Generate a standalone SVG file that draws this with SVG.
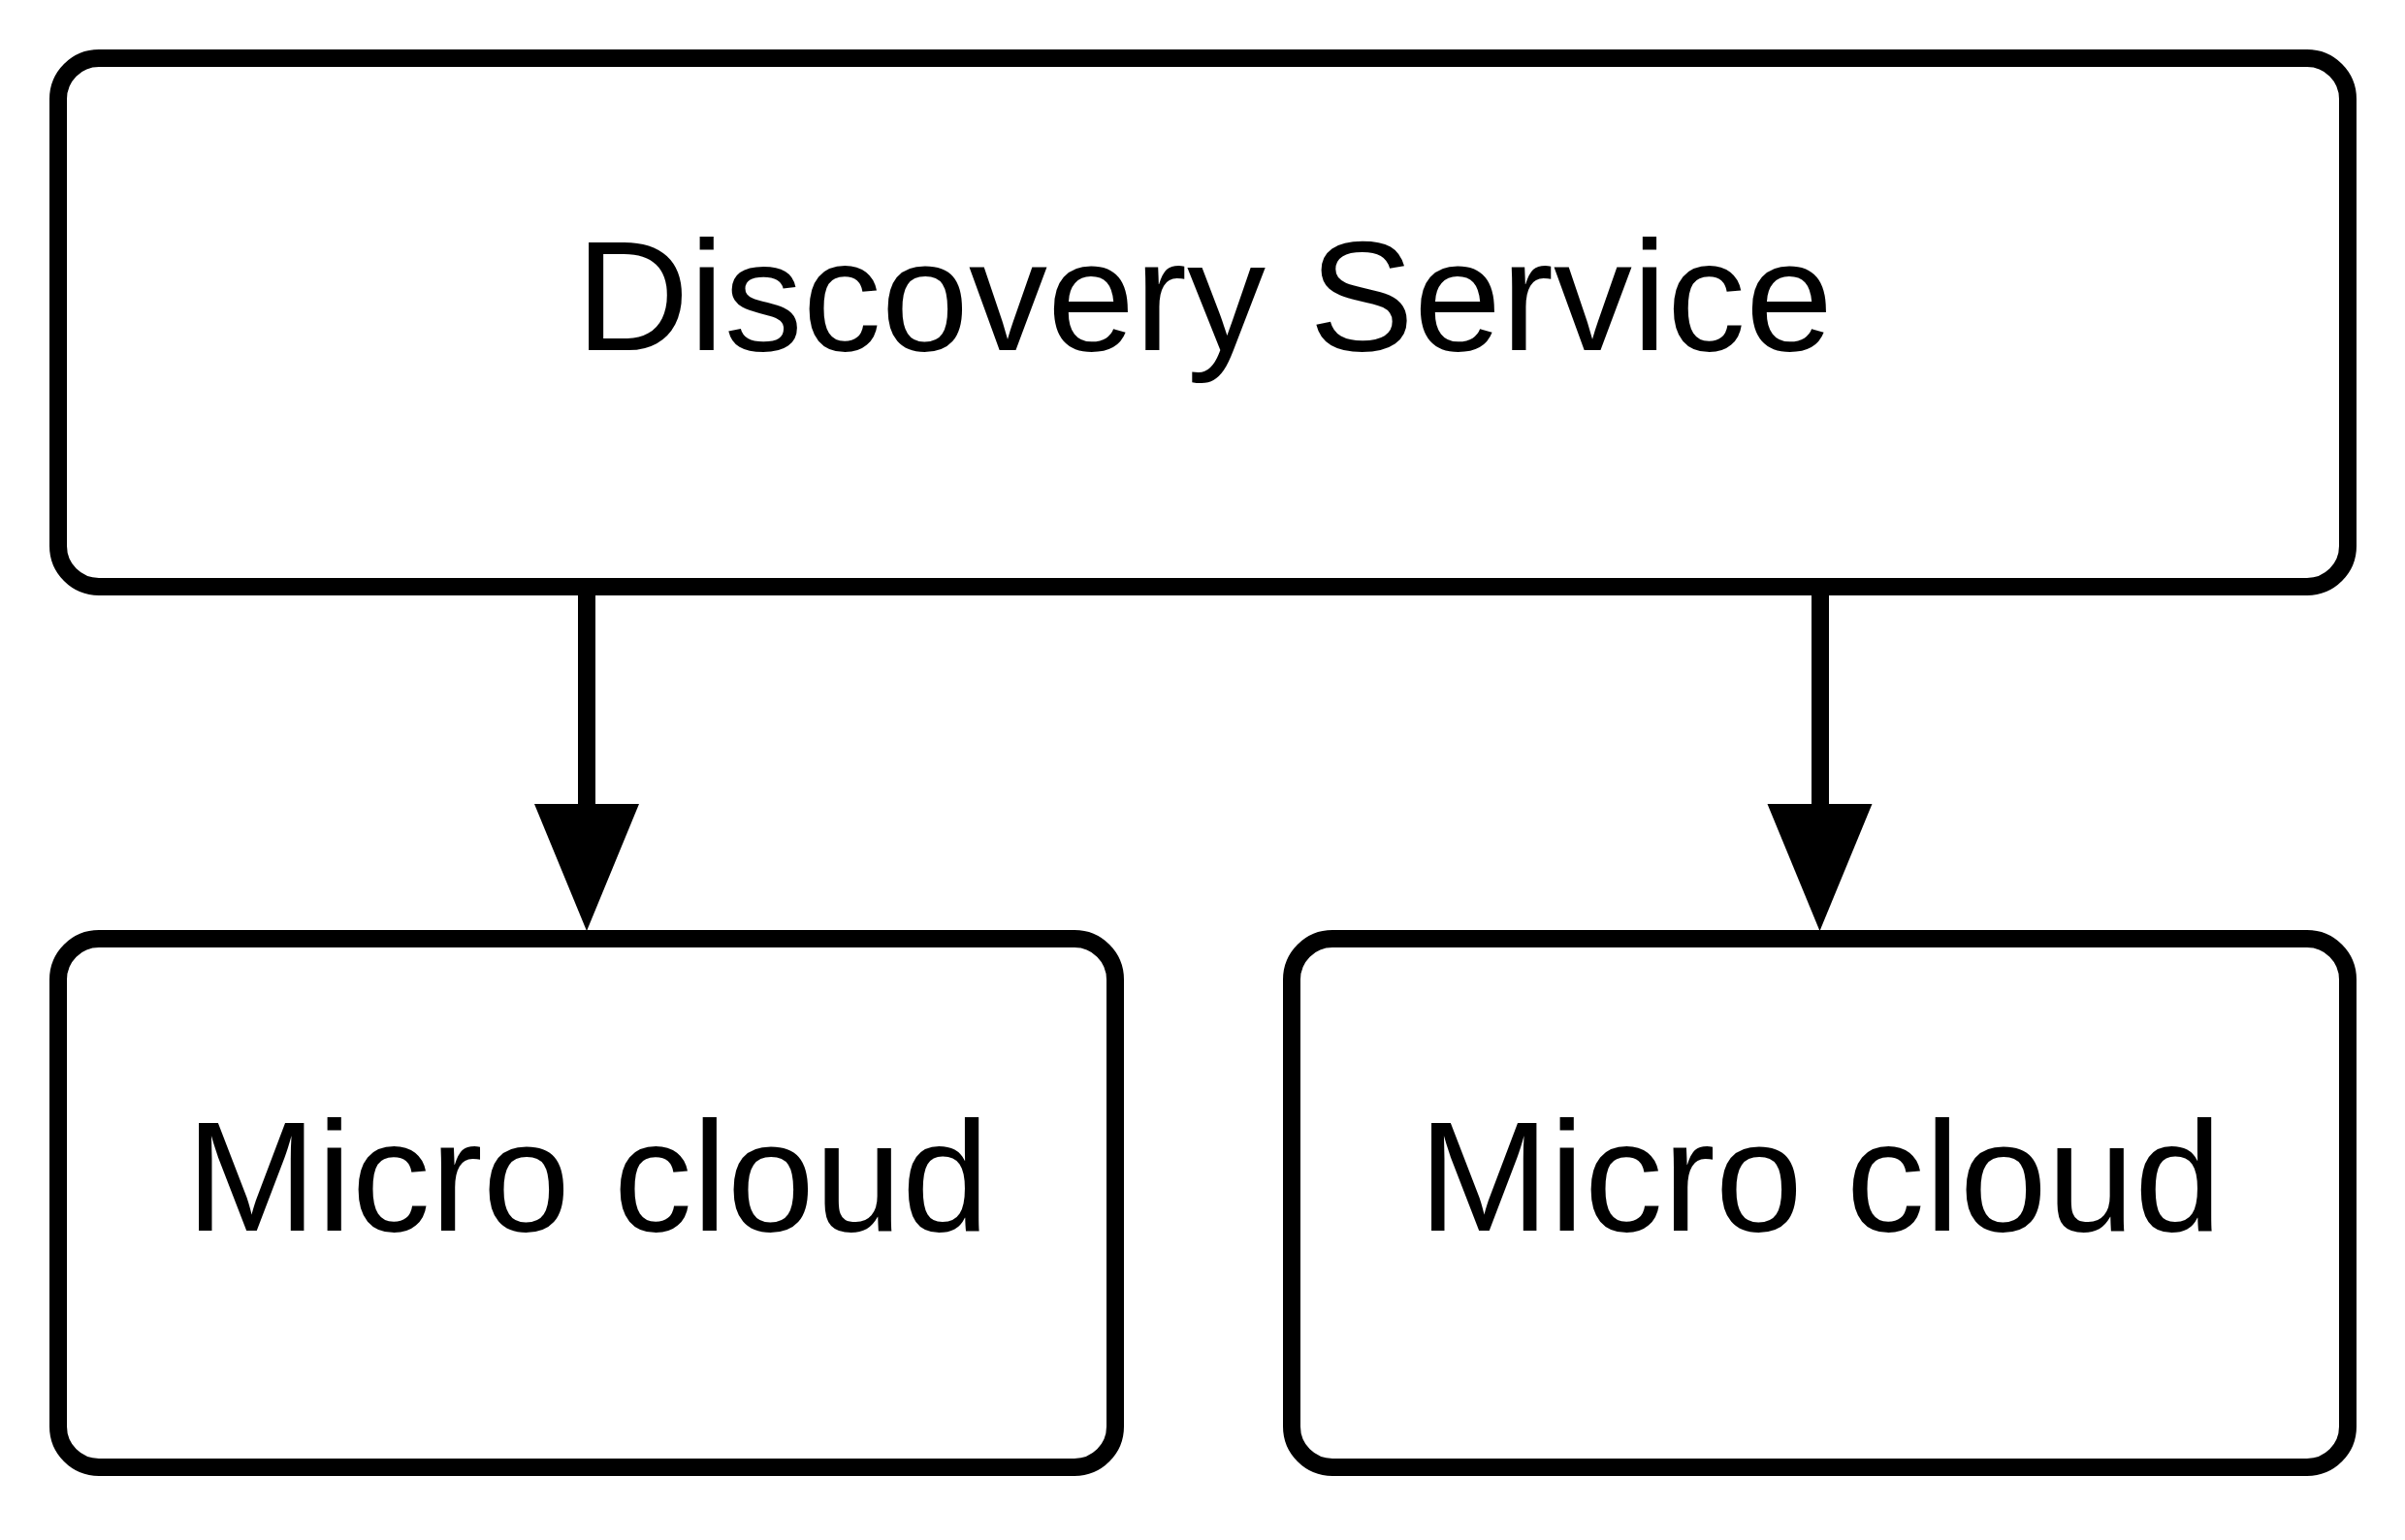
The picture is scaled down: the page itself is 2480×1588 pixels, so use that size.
<svg xmlns="http://www.w3.org/2000/svg" width="2480" height="1588" viewBox="0 0 2480 1588">
  <style>
    .node rect { fill: #ffffff; stroke: #000000; stroke-width: 18; }
    .node text { font-family: "Liberation Sans", Arial, sans-serif; font-size: 162px; fill: #000000; text-anchor: middle; }
    .edge line { stroke: #000000; stroke-width: 18; }
    .edge polygon { fill: #000000; stroke: none; }
  </style>
  <rect x="0" y="0" width="2480" height="1588" fill="#ffffff"/>
  <g id="connectors">
    <g class="edge" id="edge-discovery-micro1">
      <line x1="605" y1="605" x2="605" y2="830"/>
      <polygon points="551,829 659,829 605,960"/>
    </g>
    <g class="edge" id="edge-discovery-micro2">
      <line x1="1877" y1="605" x2="1877" y2="830"/>
      <polygon points="1822.5,829 1930.5,829 1876.5,960"/>
    </g>
  </g>
  <g class="node" id="discovery-service">
    <rect x="60" y="60" width="2361" height="545" rx="42" ry="42"/>
    <text x="1242" y="361">Discovery Service</text>
  </g>
  <g class="node" id="micro-cloud-1">
    <rect x="60" y="968" width="1090" height="545" rx="42" ry="42"/>
    <text x="606" y="1269">Micro cloud</text>
  </g>
  <g class="node" id="micro-cloud-2">
    <rect x="1332" y="968" width="1089" height="545" rx="42" ry="42"/>
    <text x="1877" y="1269">Micro cloud</text>
  </g>
</svg>
